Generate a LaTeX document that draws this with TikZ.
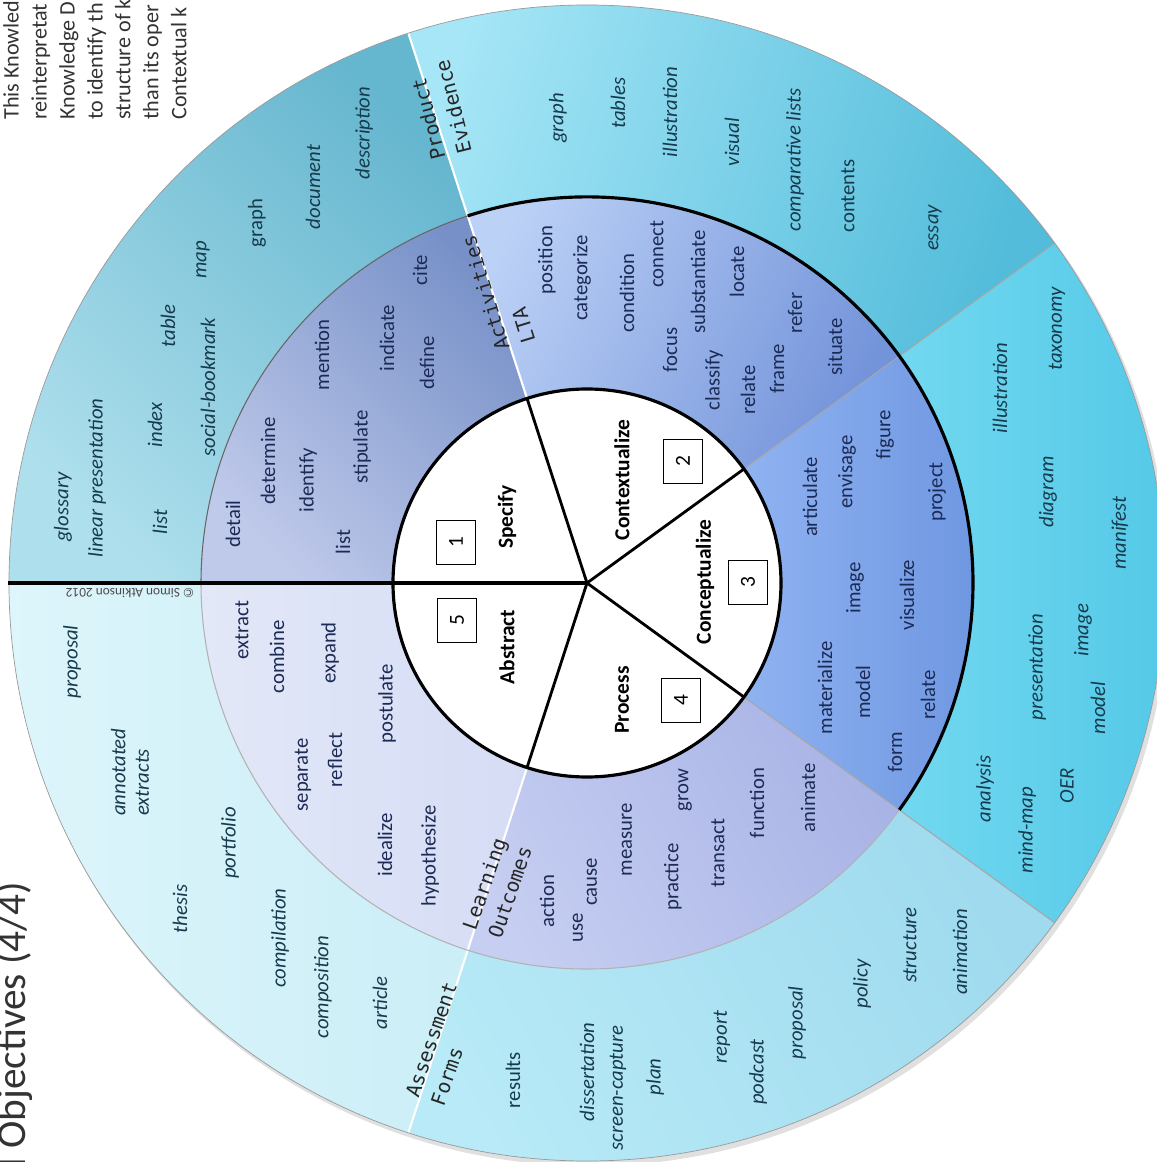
\documentclass[tikz,border=0pt]{standalone}
\usepackage{fontspec}
\setmainfont{Carlito}
\setmonofont{DejaVu Sans Mono}
\usepackage{tikz}
\definecolor{wordblue}{HTML}{1C2B55}
\definecolor{wordteal}{HTML}{173A4C}
\definecolor{outA1}{HTML}{AEDFEC}
\definecolor{outA2}{HTML}{65B6CF}
\definecolor{outB1}{HTML}{A6E6F7}
\definecolor{outB2}{HTML}{52BCDA}
\definecolor{outC1}{HTML}{72D8F0}
\definecolor{outC2}{HTML}{50C7E6}
\definecolor{outD1}{HTML}{B8EAF7}
\definecolor{outD2}{HTML}{9FDAEE}
\definecolor{outE1}{HTML}{DDF5FB}
\definecolor{outE2}{HTML}{CBEEF7}
\definecolor{midA1}{HTML}{BFC9EA}
\definecolor{midA2}{HTML}{7791C8}
\definecolor{midB1}{HTML}{BCD1F6}
\definecolor{midB2}{HTML}{7393DA}
\definecolor{midC1}{HTML}{8FB2F1}
\definecolor{midC2}{HTML}{6C95E0}
\definecolor{midD1}{HTML}{C6CEF1}
\definecolor{midD2}{HTML}{A9B4E6}
\definecolor{midE1}{HTML}{E3E8F8}
\definecolor{midE2}{HTML}{D5DCF4}
\newcommand{\wordsize}{\fontsize{11.8}{13.5}\selectfont}
\newcommand{\coresize}{\fontsize{12.2}{14}\selectfont}
\newcommand{\ringfont}{\ttfamily\fontsize{11.3}{15.3}\selectfont}

\begin{document}
\begin{tikzpicture}[
            x=0.02cm, y=0.02cm,
            midword/.style={rotate=90, text=wordblue, font=\wordsize},
            outword/.style={rotate=90, text=wordteal, font=\wordsize\itshape},
            outplain/.style={rotate=90, text=wordteal, font=\wordsize},
            corelabel/.style={rotate=90, font=\coresize\bfseries},
            numbox/.style={rotate=90, draw, thin, fill=white, font=\coresize, minimum width=0.88cm, minimum height=0.78cm, inner sep=0pt},
            ringlabel/.style={align=left, font=\ringfont, text=black!85, inner sep=0pt}
        ]
            \useasboundingbox (-587,-579) rectangle (569,583);

            \fill [black!12] (3,-4) circle (579);
            \foreach \ai/\ao/\ca/\cb/\ang in {108/180/outA2/outA1/-45, 36/108/outB2/outB1/-107, -36/36/outC2/outC1/-90, -108/-36/outD2/outD1/-60, 180/252/outE2/outE1/-90} {
                \shade [top color=\ca, bottom color=\cb, shading angle=\ang] (\ai:386) arc[start angle=\ai, end angle=\ao, radius=386] -- (\ao:578) arc[start angle=\ao, end angle=\ai, radius=578] -- cycle;
            }
            \foreach \ai/\ao/\ca/\cb/\ang in {108/180/midA2/midA1/-45, 36/108/midB2/midB1/-115, -36/36/midC2/midC1/-90, -108/-36/midD2/midD1/-60, 180/252/midE2/midE1/-90} {
                \shade [top color=\ca, bottom color=\cb, shading angle=\ang] (\ai:194) arc[start angle=\ai, end angle=\ao, radius=194] -- (\ao:386) arc[start angle=\ao, end angle=\ai, radius=386] -- cycle;
            }

            \foreach \a in {108,-108} {
                \draw [white, line width=1.2pt] (\a:194) -- (\a:578);
            }
            \foreach \a in {36,-36} {
                \draw [black!35, line width=0.6pt] (\a:194) -- (\a:578);
            }
            \draw [black!60, line width=0.6pt] (180:386) arc[start angle=180, end angle=108, radius=386];
            \draw [line width=1.8pt] (108:386) arc[start angle=108, end angle=-36, radius=386];
            \draw [black!30, line width=0.6pt] (-36:386) arc[start angle=-36, end angle=-180, radius=386];
            \draw [black!40, line width=0.4pt] (0,0) circle (578);

            \draw [line width=1.8pt, fill=white] (0,0) circle (194);
            \foreach \a in {108,36,-36,-108} {
                \draw [line width=1.6pt] (0,0) -- (\a:194);
            }
            \draw [line width=2.4pt] (0,0) -- (180:579);

            \node[corelabel] (specify) at (-80,66) {Specify};
            \node[numbox] (n1) at (-131,41) {1};
            \node[corelabel] (context) at (35,103) {Contextualize};
            \node[numbox] (n2) at (96,122) {2};
            \node[corelabel] (concept) at (118,1) {Conceptualize};
            \node[numbox] (n3) at (161,1) {3};
            \node[corelabel] (process) at (35,-117) {Process};
            \node[numbox] (n4) at (94,-117) {4};
            \node[corelabel] (abstract) at (-80,-64) {Abstract};
            \node[numbox] (n5) at (-130,-37) {5};

            \foreach \a/\b/\w [count=\i] in {233/524/detail, 268/461/determine, 308/480/identify, 343/542/list, 362/447/stipulate, 322/355/mention, 387/338/indicate, 427/363/define, 420/270/cite,
                547/260/position, 582/278/categorize, 627/293/condition, 657/254/connect, 698/282/substantiate, 670/350/focus, 737/272/locate, 714/380/classify, 748/390/relate, 777/369/frame, 795/313/refer, 835/347/situate,
                810/497/articulate, 847/472/envisage, 885/435/figure, 937/492/project, 855/588/image, 907/595/visualize, 825/688/materialize, 863/692/model, 928/695/relate, 895/752/form,
                808/798/animate, 757/803/function, 685/790/grow, 718/853/transact, 673/877/practice, 627/840/measure, 592/882/cause, 578/928/use, 547/901/action,
                242/630/extract, 277/657/combine, 330/653/expand, 387/704/postulate, 303/775/separate, 335/760/reflect, 385/845/idealize, 430/856/hypothesize} {
                \node[midword] (mid\i) at ({\a-587},{583-\b}) {\w};
            }

            \foreach \a/\b/\w [count=\i] in {63/507/glossary, 97/478/linear presentation, 160/522/list, 155/425/index, 208/387/social-bookmark, 168/326/table, 203/260/map, 313/187/document, 364/133/description,
                558/118/graph, 618/103/tables, 670/112/illustration, 732/142/visual, 795/160/comparative lists, 935/228/essay,
                1000/388/illustration, 1057/329/taxonomy, 1048/492/diagram, 1120/533/manifest, 1037/667/presentation, 1083/630/image, 1098/708/model, 985/789/analysis, 1027/830/mind-map, 1067/786/OER,
                910/945/structure, 960/952/animation, 862/984/policy, 797/1023/proposal, 758/1072/podcast, 722/1037/report, 655/1077/plan, 618/1088/screen-capture, 587/1072/dissertation,
                72/662/proposal, 230/843/portfolio, 180/909/thesis, 280/938/compilation, 323/987/composition, 380/1003/article} {
                \node[outword] (out\i) at ({\a-587},{583-\b}) {\w};
            }
            \foreach \a/\b/\w [count=\i] in {257/223/graph, 848/196/contents, 513/1080/results} {
                \node[outplain] (plain\i) at ({\a-587},{583-\b}) {\w};
            }
            \node[outword, align=left, anchor=west] (annot) at (-457,-239) {annotated\\extracts};

            \node[ringlabel, rotate=107] (lta) at (-89,294) {Activities\\LTA};
            \node[ringlabel, rotate=104] (evidence) at (-147,473) {Product\\Evidence};
            \node[ringlabel, rotate=71] (outcomes) at (-90,-305) {Learning\\Outcomes};
            \node[ringlabel, rotate=71] (forms) at (-143,-461) {Assessment\\Forms};

            \node[rotate=180, font=\fontsize{7.6}{9}\selectfont, text=black!70] (copy) at (-457,-10) {© Simon Atkinson 2012};
            \node[rotate=90, anchor=north west, align=left, inner sep=0pt, font=\fontsize{12.6}{15.9}\selectfont, text=black!80] (intro) at (-584,463) {This Knowled\\reinterpretat\\Knowledge D\\to identify th\\structure of k\\than its oper\\Contextual k};
            \node[rotate=90, anchor=base west, inner sep=0pt, font=\fontsize{23.5}{28}\selectfont, text=black!80] (title) at (-561,-585) {l Objectives (4/4)};
        \end{tikzpicture}
\end{document}
